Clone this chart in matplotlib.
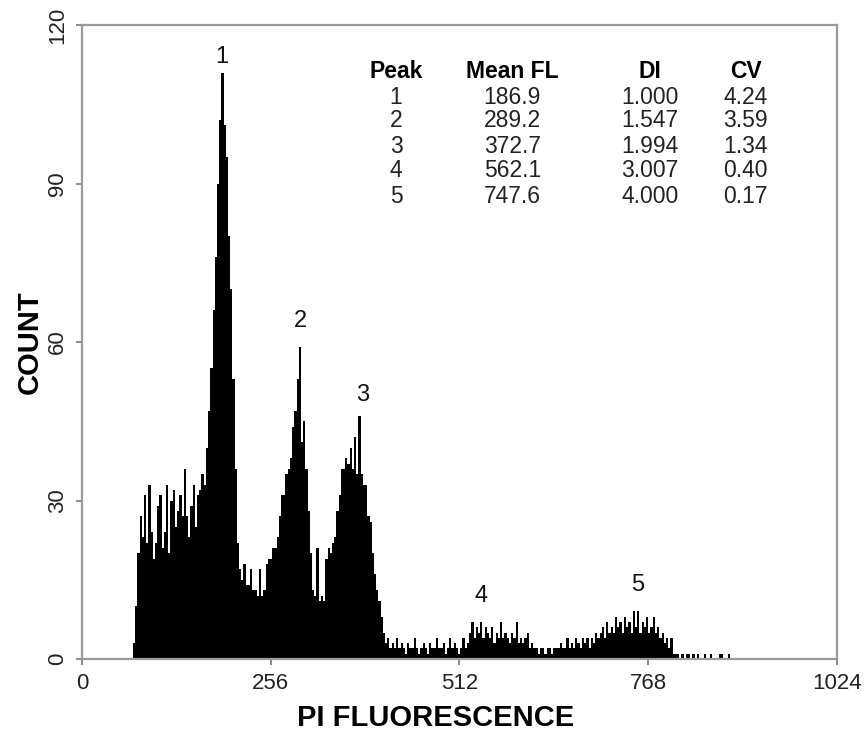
import matplotlib.pyplot as plt
import numpy as np

# histogram of PI fluorescence, counts per 3-channel bin starting at channel 69
bin_start = 69
bin_width = 3
counts = [
    3, 10, 20, 27, 23, 31, 22, 33, 24, 19, 22, 29,
    31, 21, 24, 33, 20, 30, 32, 25, 28, 31, 27, 36,
    27, 23, 29, 33, 25, 31, 32, 35, 33, 40, 47, 55,
    66, 76, 90, 102, 111, 101, 95, 80, 70, 53, 36, 22,
    17, 15, 18, 14, 14, 17, 13, 13, 12, 17, 12, 13,
    18, 19, 19, 21, 21, 23, 27, 31, 31, 35, 36, 38,
    44, 47, 53, 59, 41, 45, 36, 28, 20, 13, 12, 21,
    11, 12, 11, 19, 21, 20, 22, 23, 28, 31, 36, 36,
    38, 37, 40, 36, 42, 35, 46, 35, 33, 33, 27, 26,
    20, 16, 13, 11, 8, 5, 3, 4, 2, 3, 2, 4,
    2, 3, 2, 1, 3, 2, 2, 4, 2, 1, 2, 3,
    2, 1, 3, 2, 2, 4, 2, 2, 3, 1, 2, 4,
    2, 3, 2, 1, 2, 4, 2, 3, 5, 7, 4, 6,
    5, 7, 4, 6, 5, 4, 6, 3, 5, 4, 7, 4,
    5, 4, 3, 5, 4, 7, 3, 4, 3, 4, 5, 2,
    3, 2, 2, 1, 2, 2, 1, 2, 2, 1, 2, 2,
    2, 3, 2, 2, 4, 2, 3, 2, 4, 3, 2, 4,
    3, 4, 2, 4, 3, 5, 4, 5, 6, 4, 7, 5,
    6, 5, 8, 6, 7, 5, 8, 6, 7, 5, 9, 6,
    9, 5, 7, 6, 8, 5, 6, 8, 5, 6, 4, 5,
    3, 4, 2, 4, 1, 1, 1, 0, 1, 0, 1, 1,
    0, 1, 0, 1, 0, 0, 1, 0, 0, 1, 0, 0,
    0, 1, 1, 0, 0, 1, 0, 0, 0, 0, 0, 0,
]

# peak labels above the histogram (channel, count)
peak_names = ['1', '2', '3', '4', '5']
peak_x = [190, 296, 380, 541, 754]
peak_y = [114, 64, 50, 12, 14]

# summary table
table_cols = ['Peak', 'Mean FL', 'DI', 'CV']
peak_ids = ['1', '2', '3', '4', '5']
mean_fl = ['186.9', '289.2', '372.7', '562.1', '747.6']
di = ['1.000', '1.547', '1.994', '3.007', '4.000']
cv = ['4.24', '3.59', '1.34', '0.40', '0.17']

xticks = [0, 256, 512, 768, 1024]
yticks = [0, 30, 60, 90, 120]

edges = bin_start + bin_width * np.arange(len(counts) + 1)

fig = plt.figure(figsize=(8.65, 7.31), dpi=100)
ax = fig.add_axes([82 / 865, 72 / 731, 755 / 865, 634 / 731])

ax.stairs(counts, edges, fill=True, color='black', linewidth=0)

ax.set_xlim(0, 1024)
ax.set_ylim(0, 120)
ax.set_xticks(xticks)
ax.set_yticks(yticks)

for s in ax.spines.values():
    s.set_color('#9a9a9a')
    s.set_linewidth(1.6)

fam = ['Liberation Sans', 'DejaVu Sans']
ax.tick_params(direction='out', length=4, width=1.2, color='#777777',
               labelsize=16, labelcolor='#222222', pad=6)
for lab in ax.get_xticklabels():
    lab.set_family(fam)
for lab in ax.get_yticklabels():
    lab.set_family(fam)
    lab.set_rotation(90)
    lab.set_va('center')

ax.set_xlabel('PI FLUORESCENCE', fontsize=21, fontweight='bold', family=fam)
ax.set_ylabel('COUNT', fontsize=21, fontweight='bold', family=fam)
ax.xaxis.set_label_coords(0.469, -0.093)
ax.yaxis.set_label_coords(-0.069, 0.5)
ax.xaxis.label.set_va('center')
ax.yaxis.label.set_va('center')

for name, px, py in zip(peak_names, peak_x, peak_y):
    ax.text(px, py, name, ha='center', va='center', fontsize=17,
            family=fam, color='#111111')

# table drawn as text in axes fraction
col_x = [0.416, 0.570, 0.752, 0.879]
row_y = [0.926, 0.886, 0.849, 0.809, 0.770, 0.730]
for cx, name in zip(col_x, table_cols):
    ax.text(cx, row_y[0], name, transform=ax.transAxes, ha='center', va='center',
            fontsize=16.5, fontweight='bold', family=fam)
for i in range(len(peak_ids)):
    vals = [peak_ids[i], mean_fl[i], di[i], cv[i]]
    for cx, v in zip(col_x, vals):
        ax.text(cx, row_y[i + 1], v, transform=ax.transAxes, ha='center', va='center',
                fontsize=16.5, family=fam, color='#222222')

fig.savefig('out.png', dpi=100)
